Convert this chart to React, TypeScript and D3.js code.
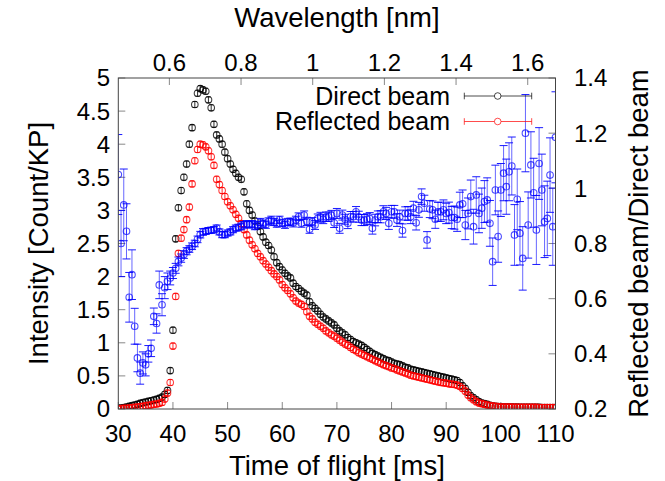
import * as d3 from 'd3'

// TOF bins (ms) and the wavelength conversion used for the top axis
const tofStart = 30
const tofStep = 0.5
const nmPerMs = 0.01525

// Intensity [Count/KP], one value per TOF bin (30 .. 110 ms)
const directBeam = [
  0.01, 0.015, 0.02, 0.03, 0.04, 0.05, 0.06, 0.07, 0.085, 0.095,
  0.105, 0.115, 0.125, 0.135, 0.145, 0.16, 0.18, 0.22, 0.28, 0.58,
  1.19, 2.57, 3.04, 3.30, 3.50, 3.70, 4.00, 4.25, 4.60, 4.77,
  4.84, 4.82, 4.80, 4.67, 4.55, 4.30, 4.14, 4.08, 4.00, 3.88,
  3.78, 3.70, 3.62, 3.56, 3.50, 3.47, 3.28, 3.10, 3.00, 2.93,
  2.84, 2.76, 2.68, 2.60, 2.52, 2.47, 2.40, 2.30, 2.21, 2.15,
  2.10, 2.05, 2.01, 1.98, 1.90, 1.85, 1.82, 1.78, 1.75, 1.72,
  1.62, 1.56, 1.52, 1.48, 1.43, 1.39, 1.36, 1.33, 1.30, 1.27,
  1.22, 1.18, 1.15, 1.12, 1.08, 1.05, 1.02, 1.00, 0.98, 0.96,
  0.93, 0.90, 0.87, 0.84, 0.82, 0.80, 0.78, 0.76, 0.74, 0.73,
  0.71, 0.69, 0.68, 0.67, 0.65, 0.63, 0.62, 0.60, 0.59, 0.58,
  0.57, 0.56, 0.55, 0.54, 0.53, 0.52, 0.51, 0.50, 0.49, 0.48,
  0.47, 0.46, 0.45, 0.44, 0.43, 0.40, 0.35, 0.31, 0.25, 0.20,
  0.17, 0.14, 0.11, 0.09, 0.08, 0.07, 0.055, 0.045, 0.04, 0.035,
  0.03, 0.03, 0.03, 0.028, 0.028, 0.027, 0.027, 0.026, 0.026, 0.025,
  0.025, 0.025, 0.024, 0.024, 0.024, 0.023, 0.023, 0.023, 0.022, 0.022,
  0.022,
]

const reflectedBeam = [
  0.0, 0.005, 0.01, 0.01, 0.015, 0.02, 0.025, 0.03, 0.035, 0.04,
  0.05, 0.055, 0.06, 0.07, 0.075, 0.085, 0.10, 0.15, 0.24, 0.40,
  0.95, 1.70, 2.35, 2.58, 2.71, 2.86, 3.05, 3.40, 3.75, 3.92,
  4.00, 3.99, 3.96, 3.90, 3.81, 3.68, 3.47, 3.39, 3.30, 3.21,
  3.13, 3.07, 3.01, 2.94, 2.88, 2.80, 2.71, 2.63, 2.55, 2.48,
  2.42, 2.35, 2.30, 2.24, 2.19, 2.14, 2.09, 2.04, 2.00, 1.95,
  1.88, 1.83, 1.79, 1.74, 1.68, 1.63, 1.60, 1.58, 1.55, 1.47,
  1.40, 1.36, 1.31, 1.28, 1.25, 1.22, 1.18, 1.15, 1.12, 1.10,
  1.07, 1.04, 1.01, 0.98, 0.96, 0.93, 0.90, 0.88, 0.85, 0.83,
  0.81, 0.79, 0.77, 0.75, 0.73, 0.71, 0.69, 0.67, 0.655, 0.64,
  0.62, 0.61, 0.59, 0.575, 0.56, 0.545, 0.53, 0.51, 0.50, 0.49,
  0.48, 0.47, 0.46, 0.45, 0.44, 0.43, 0.42, 0.41, 0.40, 0.395,
  0.39, 0.38, 0.375, 0.37, 0.36, 0.34, 0.31, 0.27, 0.21, 0.17,
  0.14, 0.11, 0.09, 0.08, 0.07, 0.06, 0.05, 0.045, 0.04, 0.035,
  0.03, 0.03, 0.028, 0.028, 0.027, 0.027, 0.026, 0.026, 0.025, 0.025,
  0.025, 0.024, 0.024, 0.024, 0.023, 0.023, 0.023, 0.022, 0.022, 0.022,
  0.022,
]

// Reflected beam / Direct beam and its error, right axis
const ratio = [
  1.05, 0.80, 0.94, 0.844, 0.605, 0.687, 0.50, 0.385, 0.33, 0.367,
  0.36, 0.40, 0.42, 0.536, 0.51, 0.65, 0.578, 0.64, 0.663, 0.675,
  0.693, 0.71, 0.735, 0.747, 0.76, 0.772, 0.78, 0.79, 0.80, 0.815,
  0.832, 0.842, 0.844, 0.847, 0.848, 0.85, 0.856, 0.842, 0.832, 0.832,
  0.838, 0.842, 0.85, 0.856, 0.858, 0.862, 0.868, 0.871, 0.868, 0.871,
  0.862, 0.868, 0.878, 0.872, 0.868, 0.88, 0.886, 0.878, 0.872, 0.886,
  0.875, 0.868, 0.878, 0.879, 0.874, 0.885, 0.897, 0.873, 0.903, 0.88,
  0.852, 0.879, 0.867, 0.891, 0.897, 0.888, 0.897, 0.897, 0.903, 0.875,
  0.909, 0.855, 0.903, 0.888, 0.873, 0.897, 0.897, 0.915, 0.897, 0.885,
  0.885, 0.888, 0.891, 0.855, 0.885, 0.897, 0.897, 0.915, 0.909, 0.873,
  0.915, 0.915, 0.885, 0.897, 0.847, 0.909, 0.909, 0.897, 0.928, 0.875,
  0.922, 0.970, 0.946, 0.813, 0.925, 0.922, 0.888, 0.915, 0.915, 0.922,
  0.909, 0.912, 0.894, 0.894, 0.888, 0.94, 0.944, 0.867, 0.909, 0.97,
  0.861, 0.976, 0.909, 0.928, 0.952, 0.958, 0.873, 0.734, 0.994, 0.825,
  0.994, 1.055, 1.006, 1.06, 1.081, 0.831, 0.960, 0.837, 0.746, 1.20,
  0.867, 1.085, 0.984, 0.849, 1.09, 0.994, 0.879, 0.891, 1.048, 0.861,
  1.185,
]

const ratioErr = [
  0.145, 0.12, 0.13, 0.10, 0.09, 0.09, 0.065, 0.05, 0.04, 0.04,
  0.04, 0.03, 0.03, 0.03, 0.035, 0.05, 0.04, 0.04, 0.03, 0.025,
  0.02, 0.018, 0.016, 0.015, 0.014, 0.013, 0.012, 0.012, 0.012, 0.012,
  0.012, 0.012, 0.011, 0.011, 0.011, 0.011, 0.011, 0.011, 0.011, 0.011,
  0.011, 0.011, 0.011, 0.011, 0.012, 0.012, 0.012, 0.012, 0.012, 0.012,
  0.012, 0.012, 0.013, 0.013, 0.013, 0.013, 0.013, 0.013, 0.013, 0.013,
  0.013, 0.013, 0.013, 0.013, 0.014, 0.014, 0.014, 0.014, 0.015, 0.015,
  0.015, 0.015, 0.016, 0.016, 0.016, 0.016, 0.017, 0.017, 0.017, 0.017,
  0.018, 0.018, 0.018, 0.018, 0.019, 0.019, 0.019, 0.019, 0.02, 0.02,
  0.02, 0.02, 0.021, 0.021, 0.021, 0.021, 0.022, 0.022, 0.022, 0.022,
  0.023, 0.023, 0.023, 0.024, 0.024, 0.024, 0.025, 0.025, 0.025, 0.026,
  0.027, 0.028, 0.029, 0.03, 0.031, 0.032, 0.033, 0.034, 0.035, 0.036,
  0.037, 0.038, 0.04, 0.042, 0.044, 0.046, 0.05, 0.053, 0.056, 0.06,
  0.063, 0.066, 0.07, 0.073, 0.076, 0.08, 0.083, 0.086, 0.09, 0.093,
  0.096, 0.1, 0.1, 0.105, 0.105, 0.11, 0.11, 0.115, 0.115, 0.14,
  0.12, 0.12, 0.125, 0.125, 0.13, 0.13, 0.13, 0.135, 0.135, 0.14,
  0.165,
]

const tofTicks = [30, 40, 50, 60, 70, 80, 90, 100, 110]
const wavelengthTicks = [0.6, 0.8, 1, 1.2, 1.4, 1.6]
const intensityTicks = [0, 0.5, 1, 1.5, 2, 2.5, 3, 3.5, 4, 4.5, 5]
const ratioTicks = [0.2, 0.4, 0.6, 0.8, 1, 1.2, 1.4]

const FONT = 'Liberation Sans, Arial, Helvetica, sans-serif'

export default function App() {
  const width = 665
  const height = 481
  const plot = { left: 118.3, right: 555.5, top: 78, bottom: 409 }

  const x = d3.scaleLinear().domain([30, 110]).range([plot.left, plot.right])
  const xTop = d3.scaleLinear()
    .domain([30 * nmPerMs, 110 * nmPerMs])
    .range([plot.left, plot.right])
  const yL = d3.scaleLinear().domain([0, 5]).range([plot.bottom, plot.top])
  const yR = d3.scaleLinear().domain([0.2, 1.4]).range([plot.bottom, plot.top])

  const tof = directBeam.map((_, i) => tofStart + i * tofStep)
  const tickLen = 7
  const tickColor = '#888'

  // small circle + error-bar glyph used by gnuplot for the intensity data
  const glyph = (cx: number, cy: number, color: string, key: string) => (
    <g key={key} stroke={color} fill="none" strokeOpacity={0.75} strokeWidth={1.1}>
      <circle cx={cx} cy={cy} r={3.3} />
      <line x1={cx} x2={cx} y1={cy - 3} y2={cy + 3} />
      <line x1={cx - 2.2} x2={cx + 2.2} y1={cy - 3} y2={cy - 3} />
      <line x1={cx - 2.2} x2={cx + 2.2} y1={cy + 3} y2={cy + 3} />
    </g>
  )

  const legend = [
    { label: 'Direct beam', color: '#000', y: 96 },
    { label: 'Reflected beam', color: '#ff0000', y: 121.5 },
  ]

  return (
    <svg
      width={width}
      height={height}
      style={{ position: 'absolute', left: 0, top: 0, background: '#fff' }}
      fontFamily={FONT}
    >
      <defs>
        <clipPath id="plot-clip">
          <rect x={plot.left} y={plot.top} width={plot.right - plot.left} height={plot.bottom - plot.top} />
        </clipPath>
      </defs>

      {/* ticks */}
      <g stroke={tickColor} strokeWidth={1}>
        {tofTicks.map(t => (
          <line key={'bt' + t} x1={x(t)} x2={x(t)} y1={plot.bottom} y2={plot.bottom - tickLen} />
        ))}
        {wavelengthTicks.map(w => (
          <line key={'tt' + w} x1={xTop(w)} x2={xTop(w)} y1={plot.top} y2={plot.top + tickLen} />
        ))}
        {intensityTicks.map(v => (
          <line key={'lt' + v} x1={plot.left} x2={plot.left + tickLen} y1={yL(v)} y2={yL(v)} />
        ))}
        {ratioTicks.map(r => (
          <line key={'rt' + r} x1={plot.right} x2={plot.right - tickLen} y1={yR(r)} y2={yR(r)} />
        ))}
      </g>

      <g clipPath="url(#plot-clip)">
        {/* direct beam */}
        {directBeam.map((v, i) => glyph(x(tof[i]), yL(v), '#000', 'd' + i))}
        {/* reflected beam */}
        {reflectedBeam.map((v, i) => glyph(x(tof[i]), yL(v), '#ff0000', 'r' + i))}
        {/* ratio with error bars */}
        {ratio.map((r, i) => {
          const cx = x(tof[i])
          const y0 = yR(r - ratioErr[i])
          const y1 = yR(r + ratioErr[i])
          return (
            <g key={'q' + i}>
              <line x1={cx} x2={cx} y1={y0} y2={y1} stroke="#0000ff" strokeOpacity={0.6} />
              <line x1={cx - 4} x2={cx + 4} y1={y0} y2={y0} stroke="#0000ff" strokeOpacity={0.9} />
              <line x1={cx - 4} x2={cx + 4} y1={y1} y2={y1} stroke="#0000ff" strokeOpacity={0.9} />
              <circle cx={cx} cy={yR(r)} r={3.3} fill="none" stroke="#0000ff" strokeOpacity={0.7} strokeWidth={1.1} />
              <line x1={cx} x2={cx} y1={yR(r) - 2.5} y2={yR(r) + 2.5} stroke="#0000ff" strokeOpacity={0.6} />
            </g>
          )
        })}
      </g>

      {/* frame */}
      <rect
        x={plot.left}
        y={plot.top}
        width={plot.right - plot.left}
        height={plot.bottom - plot.top}
        fill="none"
        stroke="#444"
        strokeWidth={1}
      />

      {/* legend */}
      {legend.map(l => (
        <g key={l.label}>
          <text x={450} y={l.y} dy="0.35em" textAnchor="end" fontSize={25} fill="#000">
            {l.label}
          </text>
          <g stroke={l.color} strokeOpacity={0.7} fill="none">
            <line x1={464.3} x2={531.7} y1={l.y} y2={l.y} />
            <line x1={464.3} x2={464.3} y1={l.y - 3.3} y2={l.y + 3.3} />
            <line x1={531.7} x2={531.7} y1={l.y - 3.3} y2={l.y + 3.3} />
            <circle cx={497.7} cy={l.y} r={3.3} fill="#fff" />
          </g>
        </g>
      ))}

      {/* tick labels */}
      <g fontSize={24} fill="#000">
        {tofTicks.map(t => (
          <text key={'bl' + t} x={x(t)} y={441.5} textAnchor="middle">{t}</text>
        ))}
        {wavelengthTicks.map(w => (
          <text key={'tl' + w} x={xTop(w)} y={70.5} textAnchor="middle">{w}</text>
        ))}
        {intensityTicks.map(v => (
          <text key={'ll' + v} x={110} y={yL(v)} dy="0.35em" textAnchor="end">{v}</text>
        ))}
        {ratioTicks.map(r => (
          <text key={'rl' + r} x={574} y={yR(r)} dy="0.35em" textAnchor="start">{r}</text>
        ))}
      </g>

      {/* axis titles */}
      <g fontSize={27.5} fill="#000">
        <text x={(plot.left + plot.right) / 2} y={475} textAnchor="middle">Time of flight [ms]</text>
        <text x={(plot.left + plot.right) / 2} y={27} textAnchor="middle">Wavelength [nm]</text>
        <text
          transform={`translate(48,${(plot.top + plot.bottom) / 2}) rotate(-90)`}
          textAnchor="middle"
        >
          Intensity [Count/KP]
        </text>
        <text
          transform={`translate(648,${(plot.top + plot.bottom) / 2}) rotate(-90)`}
          textAnchor="middle"
        >
          Reflected beam/Direct beam
        </text>
      </g>
    </svg>
  )
}
